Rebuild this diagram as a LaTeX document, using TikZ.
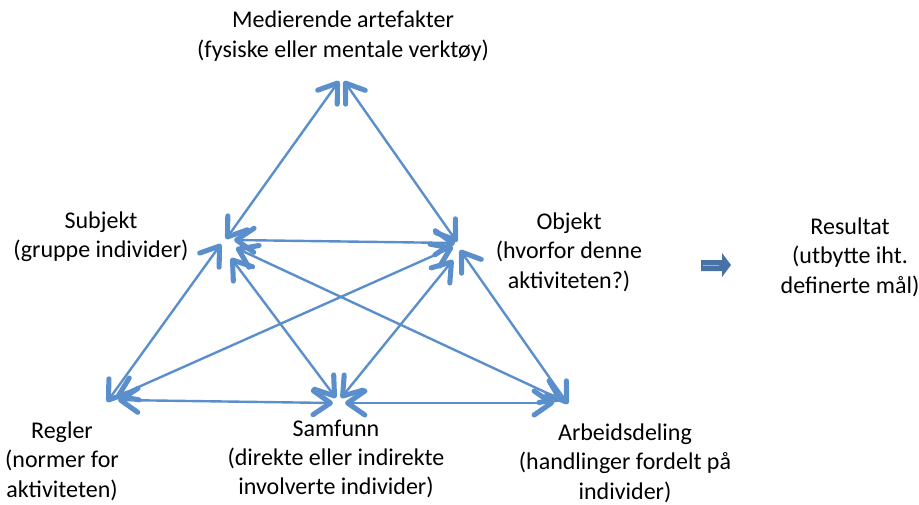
\documentclass[tikz,border=0pt]{standalone}
\usepackage{fontspec}
\setmainfont{Carlito}
\usetikzlibrary{arrows.meta}

\definecolor{lineblue}{RGB}{90,143,204}
\definecolor{blockblue}{RGB}{72,113,166}
\definecolor{blocklight}{RGB}{150,180,215}

\tikzset{
  barb/.tip={Straight Barb[length=13pt,width=18pt,line width=3.8pt,round]},
  link/.style={draw=lineblue,line width=1.8pt,arrows={barb-barb}},
  label/.style={align=center,inner sep=0pt,font=\fontsize{18}{22}\selectfont},
}

\begin{document}
\begin{tikzpicture}[x=0.75pt,y=-0.75pt]
\useasboundingbox (0,0) rectangle (919,504);

% corner end points of the connectors
\coordinate (mL) at (339,81);
\coordinate (mR) at (344,81);

\coordinate (sM) at (226,239);
\coordinate (sO) at (234,240);
\coordinate (sR) at (221,244);
\coordinate (sSa) at (231,258);
\coordinate (sA) at (236,248);

\coordinate (oM) at (457,242);
\coordinate (oS) at (455,243);
\coordinate (oR) at (453,247);
\coordinate (oSa) at (453,260);
\coordinate (oA) at (460,250);

\coordinate (rS) at (107,402);
\coordinate (rO) at (116,397);
\coordinate (rSa) at (118,400);

\coordinate (saS) at (336,398);
\coordinate (saO) at (341,398);
\coordinate (saR) at (333,403);
\coordinate (saA) at (345,403);

\coordinate (aS) at (562,400);
\coordinate (aO) at (568,404);
\coordinate (aSa) at (554,403);

% connectors
\draw[link] (sM) -- (mL);
\draw[link] (oM) -- (mR);
\draw[link] (sO) -- (oS);
\draw[link] (sR) -- (rS);
\draw[link] (sSa) -- (saS);
\draw[link] (sA) -- (aS);
\draw[link] (oR) -- (rO);
\draw[link] (oSa) -- (saO);
\draw[link] (oA) -- (aO);
\draw[link] (rSa) -- (saR);
\draw[link] (saA) -- (aSa);

% labels
\node[label] (med) at (343,36) {Medierende artefakter\\(fysiske eller mentale verktøy)};
\node[label] (subj) at (101,237) {Subjekt\\(gruppe individer)};
\node[label] (obj) at (569,252) {Objekt\\(hvorfor denne\\aktiviteten?)};
\node[label] (res) at (850,257) {Resultat\\(utbytte iht.\\definerte mål)};
\node[label] (regl) at (62,461) {Regler\\(normer for\\aktiviteten)};
\node[label] (samf) at (336,459) {Samfunn\\(direkte eller indirekte\\involverte individer)};
\node[label] (arb) at (625,463) {Arbeidsdeling\\(handlinger fordelt på\\individer)};

% block arrow towards the result
\fill[blockblue] (701,260) -- (722,260) -- (722,253) -- (731,265)
  -- (722,277) -- (722,271) -- (701,271) -- cycle;
\draw[blocklight,line width=0.8pt] (703,265.5) -- (719,265.5);
\end{tikzpicture}
\end{document}
